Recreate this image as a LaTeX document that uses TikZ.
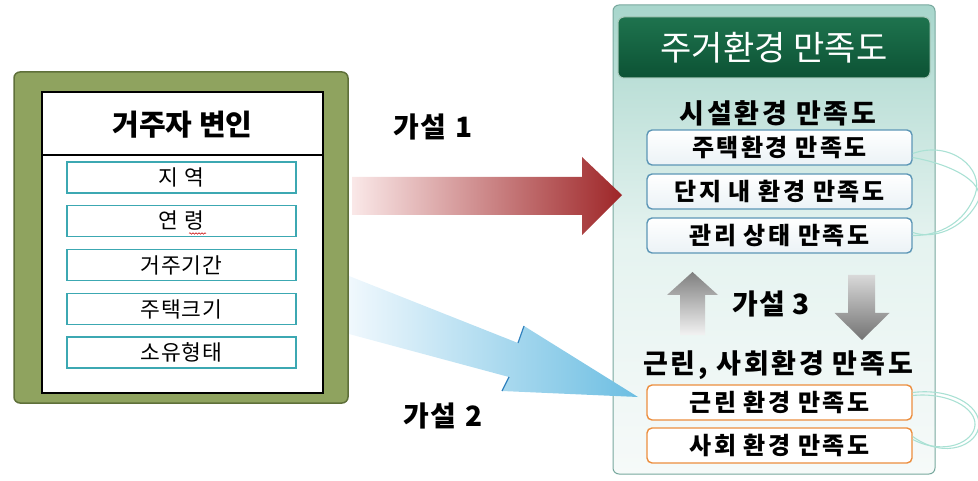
\documentclass[tikz,border=0pt]{standalone}
\usepackage{fontspec}
\setmainfont{Noto Sans CJK KR}
\usetikzlibrary{decorations.pathmorphing}
\definecolor{olive}{RGB}{143,163,95}
\definecolor{olivedark}{RGB}{95,112,58}
\definecolor{itemteal}{RGB}{60,168,178}
\definecolor{paneltop}{RGB}{168,214,204}
\definecolor{panelbot}{RGB}{246,250,249}
\definecolor{panelborder}{RGB}{120,168,158}
\definecolor{hdrtop}{RGB}{30,115,78}
\definecolor{hdrbot}{RGB}{12,82,52}
\definecolor{bluebd}{RGB}{92,150,182}
\definecolor{orangebd}{RGB}{236,142,62}
\definecolor{loopc}{RGB}{170,225,212}
\definecolor{redL}{RGB}{250,232,232}
\definecolor{redR}{RGB}{158,38,40}
\definecolor{bluL}{RGB}{240,248,253}
\definecolor{bluR}{RGB}{108,190,226}
\definecolor{bluedge}{RGB}{50,130,190}
\tikzset{
  itembox/.style={draw=itemteal, line width=1.2pt, fill=white, minimum width=229pt, minimum height=31pt, inner sep=0pt, font=\fontsize{21.5}{21.5}\selectfont\addfontfeatures{LetterSpace=4}},
  subbox/.style={rounded corners=5pt, line width=1.4pt, top color=white, bottom color=white!88!bluebd, minimum width=265pt, minimum height=35pt, inner sep=0pt, font=\bfseries\fontsize{24}{24}\selectfont\addfontfeatures{LetterSpace=10}},
  bbox/.style={subbox, draw=bluebd},
  obox/.style={subbox, draw=orangebd, top color=white, bottom color=white},
  ttl/.style={font=\bfseries\fontsize{27}{27}\selectfont\addfontfeatures{LetterSpace=10}},
  hyp/.style={font=\bfseries\fontsize{28}{28}\selectfont\addfontfeatures{LetterSpace=4}},
  loopline/.style={draw=loopc, line width=1.1pt},
}
\begin{document}
\begin{tikzpicture}[x=1pt,y=-1pt]
\useasboundingbox (0,0) rectangle (978,481);
% ---------- left box ----------
\node[draw=olivedark, line width=1.5pt, fill=olive, rounded corners=6pt, minimum width=334pt, minimum height=331pt] (lb) at (181,237.5) {};
\node[draw=black, line width=2.6pt, fill=white, minimum width=281pt, minimum height=301pt] (inner) at (182.5,242.5) {};
\coordinate (dl) at (42,155);
\coordinate (dr) at (323,155);
\draw[line width=2.6pt] (dl) -- (dr);
\node[font=\bfseries\fontsize{29}{29}\selectfont] (hdr) at (182.5,125) {거주자 변인};
\node[itembox] (i1) at (181.5,177.5) {지 역};
\node[itembox] (i2) at (181.5,221) {연 령};
\node[itembox] (i3) at (181.5,265) {거주기간};
\node[itembox] (i4) at (181.5,309) {주택크기};
\node[itembox] (i5) at (181.5,352.5) {소유형태};
\coordinate (sq1) at (189,233.5);
\coordinate (sq2) at (206,233.5);
\draw[red!80!black, line width=0.5pt, decorate, decoration={snake, amplitude=0.8pt, segment length=3pt}] (sq1) -- (sq2);
% ---------- right panel ----------
\node[draw=panelborder, line width=1pt, rounded corners=6pt, top color=paneltop, bottom color=panelbot, middle color=white!70!paneltop, minimum width=322pt, minimum height=469pt] (rp) at (774,239.5) {};
\node[draw=white!60!hdrtop, line width=1pt, rounded corners=6pt, top color=hdrtop, bottom color=hdrbot, minimum width=312pt, minimum height=61pt, text=white, font=\fontsize{34}{34}\selectfont] (rh) at (774,47.5) {주거환경 만족도};
\node[ttl] (fac) at (778,113) {시설환경 만족도};
\node[bbox] (b1) at (779.5,147.5) {주택환경 만족도};
\node[bbox] (b2) at (779.5,191.5) {단지 내 환경 만족도};
\node[bbox] (b3) at (779.5,235.5) {관리 상태 만족도};
\node[hyp] (h3) at (771,304) {가설\hskip7pt 3};
\node[ttl] (soc) at (778,365) {근린, 사회환경 만족도};
\node[obox] (o1) at (779.5,402.5) {근린 환경 만족도};
\node[obox] (o2) at (779.5,445.5) {사회 환경 만족도};
% gray arrows
\coordinate (ua) at (692.5,272);
\coordinate (da) at (862,340);
\path[top color=black!50, bottom color=white!95!black]
  (ua) -- ++(25.5,23) -- ++(-13,0) -- ++(0,40) -- ++(-25,0) -- ++(0,-40) -- ++(-13,0) -- cycle;
\path[top color=black!15, bottom color=black!55]
  (da) -- ++(-27.5,-27) -- ++(13.5,0) -- ++(0,-38) -- ++(27,0) -- ++(0,38) -- ++(14.5,0) -- cycle;
% loops
\draw[loopline] (b1.east) ++(0,6) .. controls (950,140) and (985,168) .. (975,195) .. controls (965,222) and (940,236) .. (b3.east);
\draw[loopline] (b1.east) ++(0,10) .. controls (955,165) and (990,185) .. (976,205) .. controls (962,228) and (935,240) .. ([yshift=3pt]b3.east);
\draw[loopline] (o1.east) ++(0,-10) .. controls (950,388) and (980,405) .. (979,425) .. controls (978,445) and (945,460) .. ([yshift=9pt]o2.east);
\draw[loopline] (o1.east) ++(0,-7) .. controls (948,392) and (976,408) .. (975,425) .. controls (974,442) and (945,456) .. ([yshift=6pt]o2.east);
% ---------- hypothesis arrows ----------
\path[left color=redL, right color=redR]
  (352,177) -- (582,177) -- (582,157) -- (622,195) -- (582,235) -- (582,215) -- (352,215) -- cycle;
\path[left color=bluL, right color=bluR]
  (349,276) -- (518,343) -- (524,326) -- (638,397) -- (502,391) -- (509,377) -- (349,334) -- cycle;
\draw[bluedge, line width=1.2pt] (518,343) -- (524,326);
\draw[bluedge, line width=1.2pt] (502,391) -- (509,377);
\node[hyp] (h1) at (433,127) {가설\hskip9pt 1};
\node[hyp] (h2) at (443,416) {가설\hskip9pt 2};
\end{tikzpicture}
\end{document}
